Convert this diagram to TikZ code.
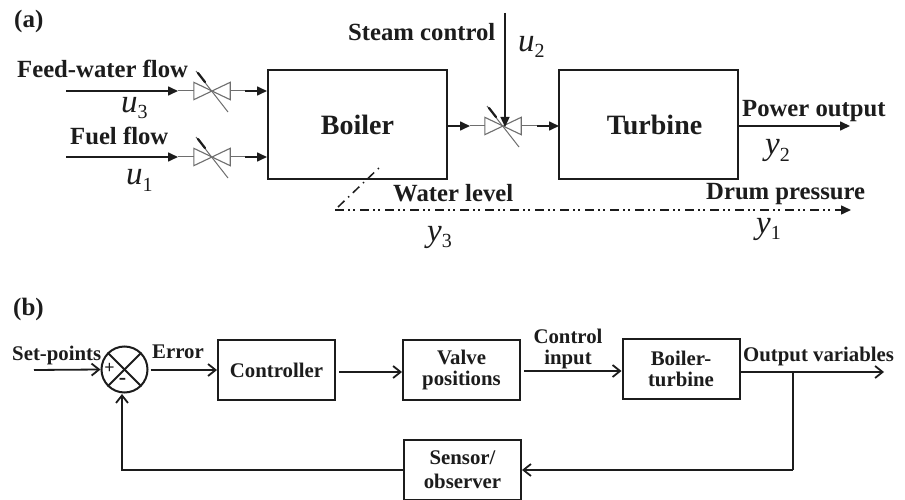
\documentclass[tikz,border=0pt]{standalone}
\usepackage{fontspec}
\setmainfont{Liberation Serif}
\usetikzlibrary{arrows.meta,calc}
\definecolor{ink}{HTML}{1C1C1C}
\definecolor{valvegray}{HTML}{6E6E6E}
\newcommand\varlab[2]{{\fontsize{33}{33}\selectfont\itshape #1}\raisebox{-6pt}{\fontsize{20}{20}\selectfont #2}}
\tikzset{
  lab/.style={inner sep=0pt,anchor=base west,text=ink,font=\fontsize{#1}{#1}\selectfont\bfseries},
  lab/.default=24.7,
  small/.style={inner sep=0pt,anchor=base west,text=ink,font=\fontsize{20.8}{20.8}\selectfont\bfseries},
  two/.style={inner sep=0pt,align=center,text=ink,font=\fontsize{20.8}{20.5}\selectfont\bfseries},
  var/.style={inner sep=0pt,anchor=base west,text=ink},
  blockA/.style={draw=ink,line width=1.6pt,inner sep=0pt,minimum width=179pt,minimum height=109pt,text=ink,font=\fontsize{28}{28}\selectfont\bfseries},
  blockB/.style={draw=ink,line width=2pt,inner sep=0pt,minimum width=117pt,minimum height=60pt},
  valve/.style={inner sep=0pt,minimum width=36pt,minimum height=17pt},
  flowA/.style={draw=ink,line width=1.6pt,-{Triangle[length=10pt,width=9pt]}},
  flowthin/.style={draw=valvegray,line width=1pt},
  flowB/.style={draw=ink,line width=1.8pt,-{Straight Barb[length=7.5pt,width=12pt,line width=1.8pt]}},
  lineB/.style={draw=ink,line width=1.8pt},
  dashaxis/.style={draw=ink,line width=1.5pt,dash pattern=on 9pt off 4pt on 1.5pt off 3.5pt on 1.5pt off 5.5pt,-{Triangle[length=10pt,width=9pt]}},
  dashdiag/.style={draw=ink,line width=1.5pt,dash pattern=on 9pt off 5pt on 1.5pt off 5pt},
  valve body/.style={draw=valvegray,line width=1.1pt},
  valve stem/.style={draw=valvegray,line width=1pt},
  valve knob/.style={draw=ink,line width=2.2pt,line cap=round},
}
\newcommand\valveshape[1]{%
  \draw[valve body] (#1.south west) -- (#1.north west) -- (#1.south east) -- (#1.north east) -- cycle;
  \draw[valve stem] ($(#1.center)+(-16,-20)$) -- ($(#1.center)+(16,21)$);
  \draw[valve knob] ($(#1.center)+(-14,-18)$) -- ($(#1.center)+(-7,-9)$);
}
\begin{document}
\begin{tikzpicture}[x=1pt,y=-1pt]
\useasboundingbox (0,0) rectangle (905,500);
\fill[white] (0,0) rectangle (905,500);
% ---- (a)
\node[lab=25] (tagA) at (14,28) {(a)};
\node[blockA] (boiler) at (357.5,124.5) {Boiler\hspace{13pt}};
\node[blockA] (turbine) at (648.5,124.5) {\hspace{12pt}Turbine};
\node[valve] (vfeed) at (212,91) {};
\node[valve] (vfuel) at (212,157) {};
\node[valve] (vsteam) at (503,126) {};
\valveshape{vfeed}
\valveshape{vfuel}
\valveshape{vsteam}
\coordinate (feedin) at (66,91);
\coordinate (feedtip) at (178,91);
\coordinate (feedtb) at (245,91);
\coordinate (feedout) at (267,91);
\coordinate (fuelin) at (66,157);
\coordinate (fueltip) at (178,157);
\coordinate (fueltb) at (245,157);
\coordinate (fuelout) at (267,157);
\coordinate (bsa) at (447,126);
\coordinate (bstip) at (470,126);
\coordinate (stb) at (537,126);
\coordinate (stout) at (559,126);
\coordinate (steamin) at (505,13);
\coordinate (steamtip) at (505,127);
\coordinate (powerend) at (850,126);
\coordinate (dashstart) at (335,210);
\coordinate (dashend) at (851,210);
\coordinate (diagA) at (338,207);
\coordinate (diagB) at (382,165);
\draw[flowA] (feedin) -- (feedtip);
\draw[flowthin] (feedtip) -- (vfeed.west);
\draw[flowthin] (vfeed.east) -- (feedtb);
\draw[flowA] (feedtb) -- (feedout);
\draw[flowA] (fuelin) -- (fueltip);
\draw[flowthin] (fueltip) -- (vfuel.west);
\draw[flowthin] (vfuel.east) -- (fueltb);
\draw[flowA] (fueltb) -- (fuelout);
\draw[flowA] (bsa) -- (bstip);
\draw[flowthin] (bstip) -- (vsteam.west);
\draw[flowthin] (vsteam.east) -- (stb);
\draw[flowA] (stb) -- (stout);
\draw[flowA,line width=1.3pt] (steamin) -- (steamtip);
\draw[flowA] (turbine.east |- powerend) -- (powerend);
\draw[dashaxis] (dashstart) -- (dashend);
\draw[dashdiag] (diagA) -- (diagB);
\node[lab] (feedlab) at (17,78) {Feed-water flow};
\node[lab] (fuellab) at (70,145) {Fuel flow};
\node[lab] (steamlab) at (348,41) {Steam control};
\node[lab] (waterlab) at (393,201) {Water level};
\node[lab] (powerlab) at (742,117) {Power output};
\node[lab] (drumlab) at (706,200) {Drum pressure};
\node[var] (u3) at (121,113) {\varlab{u}{3}};
\node[var] (u1) at (126,185) {\varlab{u}{1}};
\node[var] (u2) at (518,52) {\varlab{u}{2}};
\node[var] (y3) at (427,241) {\varlab{y}{3}};
\node[var] (y2) at (765,155) {\varlab{y}{2}};
\node[var] (y1) at (756,233) {\varlab{y}{1}};
% ---- (b)
\node[lab=25] (tagB) at (13,315) {(b)};
\node[draw=ink,line width=2pt,circle,minimum size=46pt,inner sep=0pt] (sum) at (124.5,369.5) {};
\draw[lineB] (sum.north west) -- (sum.south east);
\draw[lineB] (sum.north east) -- (sum.south west);
\node[inner sep=0pt,text=ink,font=\fontsize{18}{18}\selectfont\bfseries] (plus) at (109.5,368) {+};
\node[inner sep=0pt,text=ink,font=\fontsize{22}{22}\selectfont\bfseries] (minus) at (122.5,381) {-};
\node[blockB,text=ink,font=\fontsize{20.8}{20.8}\selectfont\bfseries] (ctrl) at (276.5,370) {Controller};
\node[blockB,two] (vpos) at (461.5,370) {Valve\\positions};
\node[blockB,two] (bt) at (681,369) {Boiler-\\turbine};
\node[blockB,two,font=\fontsize{20.8}{24}\selectfont\bfseries] (sensor) at (462.5,470) {Sensor/\\observer};
\coordinate (setin) at (34,370);
\coordinate (outend) at (884,372);
\coordinate (branch) at (793,372);
\coordinate (branchlow) at (793,470);
\draw[flowB] (setin) -- (sum.west);
\draw[flowB] (sum.east |- ctrl.west) ++(2,0) -- (ctrl.west);
\draw[flowB] (ctrl.east) ++(3,2) -- (vpos.west |- 0,372);
\draw[flowB] (vpos.east) ++(3,1) -- (bt.west |- 0,371);
\draw[flowB] (bt.east |- outend) -- (outend);
\draw[lineB] (branch) -- (branchlow);
\draw[flowB] (branchlow) -- (sensor.east);
\draw[flowB] (sensor.west) -| (122,394);
\node[small] (setlab) at (12,360) {Set-points};
\node[small] (errlab) at (152,358) {Error};
\node[two] (ctlin) at (568,349) {Control\\input};
\node[small] (outlab) at (743,361) {Output variables};
\end{tikzpicture}
\end{document}
